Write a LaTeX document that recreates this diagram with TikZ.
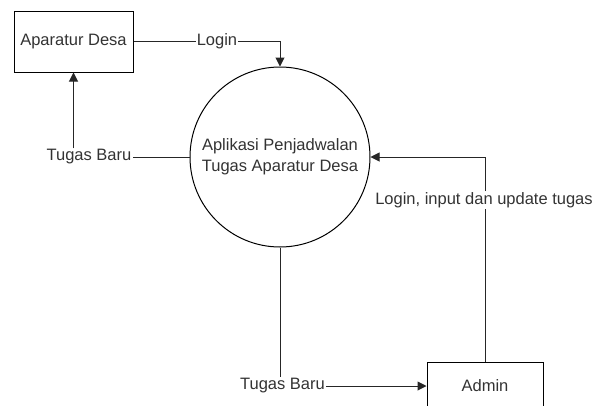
\documentclass[tikz,border=0pt]{standalone}
\usepackage{fontspec}
\setmainfont{Liberation Sans}
\usepackage{xcolor}
\usepackage{tikz}
\usetikzlibrary{arrows.meta, positioning}
\definecolor{ink}{HTML}{333333}
\tikzset{
  entity/.style={rectangle, draw=black, fill=white, text=ink, align=center, font=\fontsize{16.5}{20}\selectfont, line width=1pt, inner sep=2pt},
  process/.style={circle, draw=black, fill=white, text=ink, align=center, font=\fontsize{16.5}{21}\selectfont, minimum size=180pt, inner sep=0pt, line width=1pt},
  flowlabel/.style={text=ink, font=\fontsize{16.5}{20}\selectfont, inner sep=1pt},
  flow/.style={line width=1pt, draw=black!85},
  arrow/.style={-{Triangle[length=9pt, width=9pt]}, line width=1pt, draw=black!85},
}

\begin{document}
\begin{tikzpicture}[x=1pt, y=-1pt]
  \useasboundingbox (0,0) rectangle (606,405);
  \clip (0,0) rectangle (606,405);
  \node[entity, minimum width=119pt, minimum height=61pt] (desa) at (73.5,41.5) {Aparatur Desa};
  \node[process] (app) at (280,157) {Aplikasi Penjadwalan\\Tugas Aparatur Desa};
  \node[entity, minimum width=116pt, minimum height=48pt] (admin) at (485,386) {Admin};
  \node[flowlabel] (login) at (217,41.5) {Login};
  \node[flowlabel] (tugasA) at (89,157) {Tugas Baru};
  \node[flowlabel] (update) at (484,200) {Login, input dan update tugas};
  \node[flowlabel] (tugasB) at (282.5,386) {Tugas Baru};
  \draw[flow] (desa.east) -- (login.west);
  \draw[arrow] (login.east) -| (app.north);
  \draw[flow] (app.west) -- (tugasA.east);
  \draw[arrow] (tugasA.north -| desa.south) -- (desa.south);
  \draw[flow] (admin.north) -- (update.south -| admin.north);
  \draw[arrow] (update.north -| admin.north) |- (app.east);
  \draw[flow] (app.south) -- (tugasB.north -| app.south);
  \draw[arrow] (tugasB.east) -- (admin.west);
\end{tikzpicture}
\end{document}
